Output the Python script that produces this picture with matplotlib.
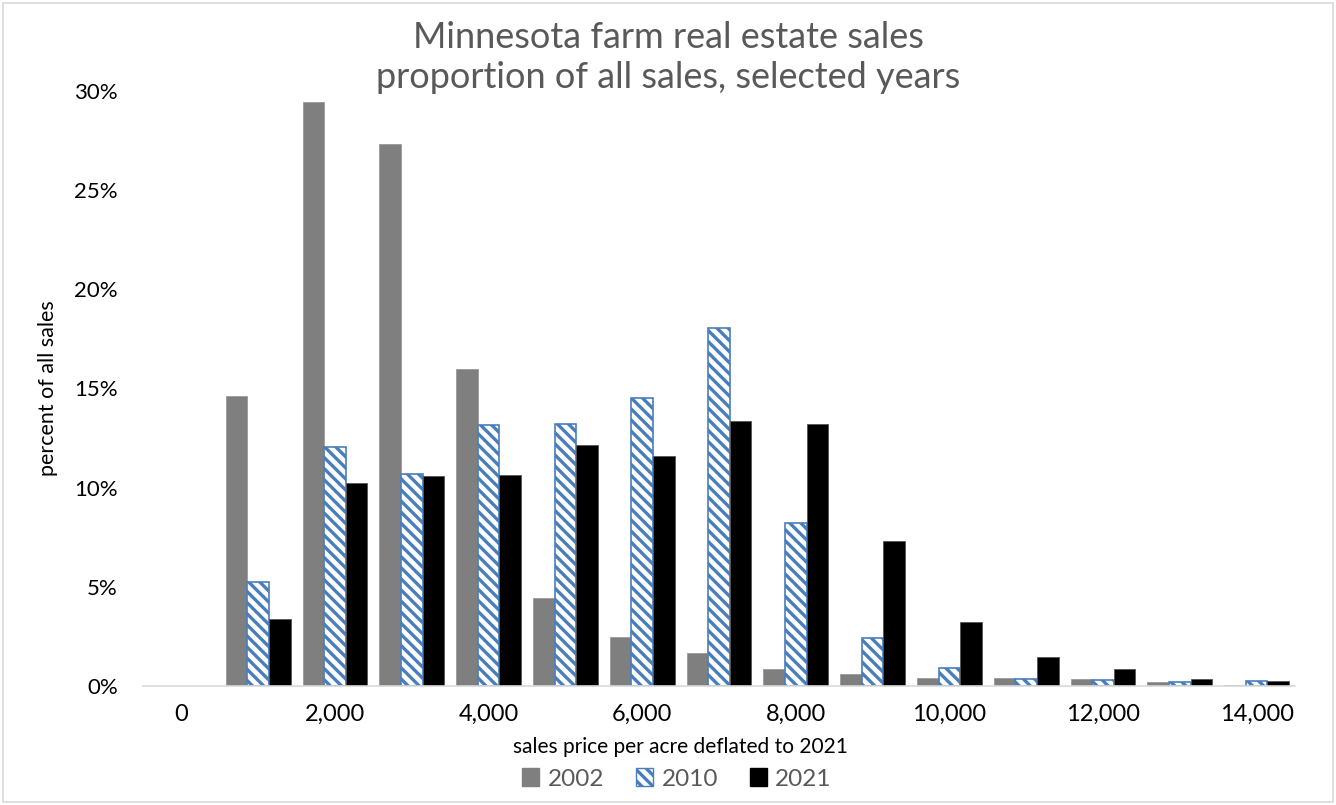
import matplotlib.pyplot as plt
import matplotlib.patches as mpatches
import numpy as np

plt.rcParams['font.family'] = ['Lato', 'DejaVu Sans']
plt.rcParams['hatch.linewidth'] = 2.4

# price bins (per acre, deflated to 2021 dollars)
price_bins = [0, 1000, 2000, 3000, 4000, 5000, 6000, 7000,
              8000, 9000, 10000, 11000, 12000, 13000, 14000]

# share of all sales in each bin, percent
sales_2002 = [0, 14.63, 29.45, 27.35, 16.0, 4.44, 2.47, 1.65,
              0.87, 0.6, 0.41, 0.41, 0.36, 0.19, 0.06]
sales_2010 = [0, 5.25, 12.06, 10.71, 13.16, 13.2, 14.54, 18.05,
              8.24, 2.43, 0.9, 0.36, 0.31, 0.19, 0.26]
sales_2021 = [0, 3.36, 10.26, 10.57, 10.63, 12.14, 11.6, 13.35,
              13.21, 7.32, 3.23, 1.45, 0.88, 0.37, 0.26]

years = ['2002', '2010', '2021']

blue = '#4a7ebb'

fig = plt.figure(figsize=(13.36, 8.05), dpi=100)
ax = fig.add_axes([143 / 1336, 1 - 686 / 805, (1295 - 143) / 1336, (686 - 91) / 805])

x = np.arange(len(price_bins))
w = 0.282

# no outline on empty bins
def edge_w(vals, lw):
    return [lw if v > 0 else 0 for v in vals]

ax.bar(x - w, sales_2002, w, color='#7f7f7f', edgecolor='#9a9a9a',
       linewidth=edge_w(sales_2002, 0.6))
ax.bar(x, sales_2010, w, color='white', edgecolor=blue, hatch='\\\\\\',
       linewidth=edge_w(sales_2010, 1.2))
ax.bar(x + w, sales_2021, w, color='black', edgecolor='#555555',
       linewidth=edge_w(sales_2021, 0.6))

ax.set_xlim(-0.5, len(price_bins) - 0.5)
ax.set_ylim(0, 30)
ax.set_yticks(np.arange(0, 31, 5))
ax.set_yticklabels([f'{v}%' for v in range(0, 31, 5)])

tick_pos = x[::2]
ax.set_xticks(tick_pos)
ax.set_xticklabels([f'{price_bins[i]:,}' for i in tick_pos])

ax.tick_params(axis='both', length=0, colors='black')
ax.tick_params(axis='y', pad=18, labelsize=16)
ax.tick_params(axis='x', pad=13, labelsize=17)

for s in ['top', 'right', 'left']:
    ax.spines[s].set_visible(False)
ax.spines['bottom'].set_color('#d9d9d9')
ax.spines['bottom'].set_linewidth(1.2)

ax.set_ylabel('percent of all sales', fontsize=15.5, labelpad=12)

fig.text(0.5, 1 - 37 / 805, 'Minnesota farm real estate sales', ha='center', va='center',
         fontsize=26, color='#595959')
fig.text(0.5, 1 - 77 / 805, 'proportion of all sales, selected years', ha='center', va='center',
         fontsize=26, color='#595959')

fig.text(680 / 1336, 1 - 747 / 805, 'sales price per acre deflated to 2021', ha='center',
         va='center', fontsize=15, color='black')

handles = [mpatches.Patch(facecolor='#7f7f7f', edgecolor='#7f7f7f'),
           mpatches.Patch(facecolor='white', edgecolor=blue, hatch='\\\\\\'),
           mpatches.Patch(facecolor='black', edgecolor='black')]
leg = fig.legend(handles, years, loc='center', bbox_to_anchor=(677 / 1336, 1 - 779 / 805),
                 ncol=3, frameon=False, fontsize=17.5, handlelength=0.7, handleheight=0.7,
                 handletextpad=0.35, columnspacing=1.3)
for t in leg.get_texts():
    t.set_color('#595959')

# light chart border
fig.patches.append(mpatches.Rectangle((3 / 1336, 3 / 805), 1330 / 1336, 799 / 805,
                                      transform=fig.transFigure, fill=False,
                                      edgecolor='#d9d9d9', linewidth=1.2))

fig.savefig('out.png', dpi=100)
